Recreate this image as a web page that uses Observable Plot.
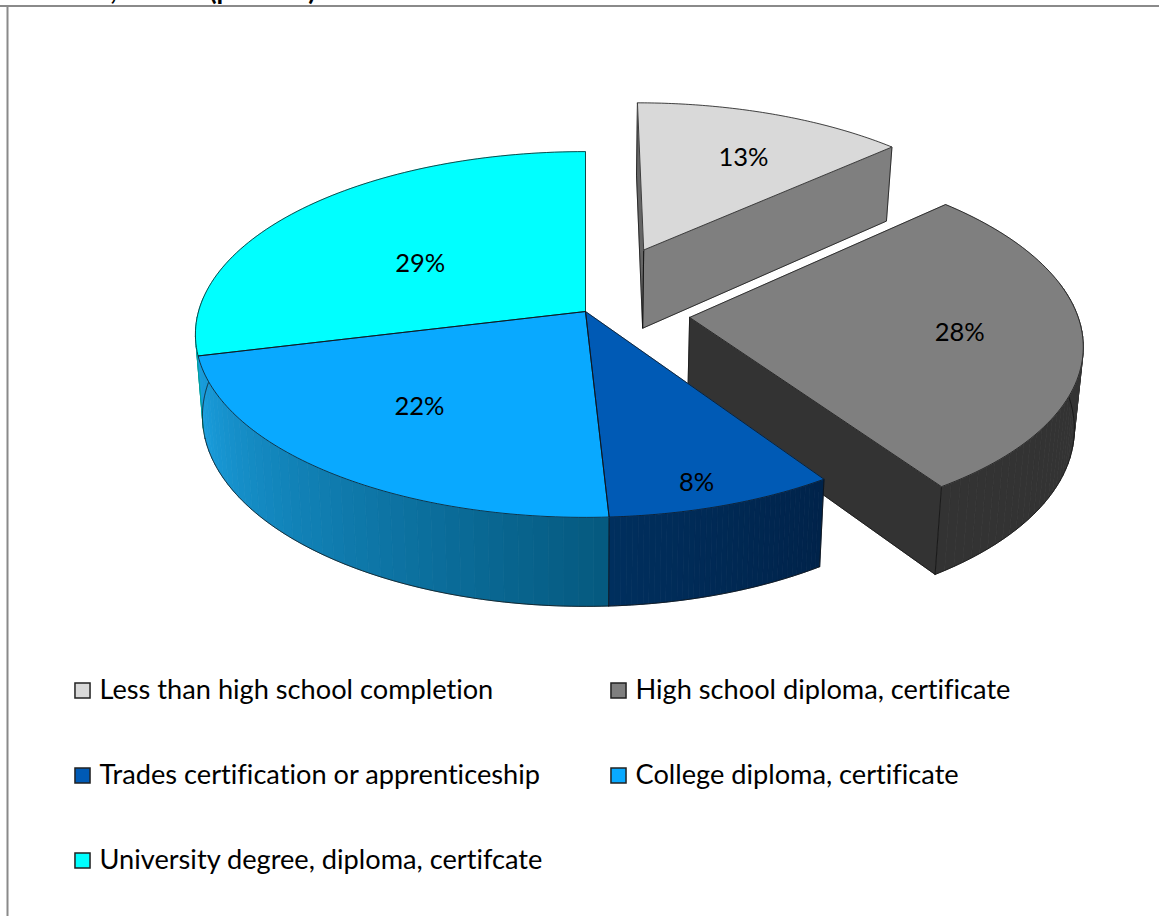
<!DOCTYPE html>
<html><head><meta charset="utf-8">
<style>html,body{margin:0;padding:0;background:#fff}svg{display:block;font-variant-ligatures:none}</style>
<script src="https://cdn.jsdelivr.net/npm/d3@7"></script>
<script src="https://cdn.jsdelivr.net/npm/@observablehq/plot@0.6"></script>
</head><body><div id="chart"></div>
<script>
// Data (shares; labels show them rounded)
const categories = ["Less than high school completion","High school diploma, certificate","Trades certification or apprenticeship","College diploma, certificate","University degree, diploma, certifcate"];
const shares = [13.2, 27.5, 8.45, 22, 28.85];
const topColors = ["#d9d9d9","#7f7f7f","#005ab5","#09a9ff","#00ffff"];
const sideStart = ["#7f7f7f","#333333","#002f5e","#1a9ede","#00a0a0"];
const sideEnd   = ["#7f7f7f","#333333","#00234a","#055a80","#00a0a0"];
// Layout of the projected pie
const explode = [0.39, 0.27, 0, 0, 0];
const labelRadius = [0.67, 0.69, 0.89, 0.64, 0.52];
const labelAlong = [0.56, 0.50, 0.55, 0.53, 0.44];
const legendCol = [0, 1, 0, 1, 0];
const legendRow = [0, 0, 1, 1, 2];
const W = 1159, H = 916;
const cx = 585, cy = 311, Rx = 387, Ry = 180, persp = 0.1257;

const total = d3.sum(shares);
const cum = d3.cumsum(shares);
const rad = v => v / total * 2 * Math.PI;
const slices = shares.map((s, i) => ({i, a0: rad(cum[i] - s), a1: rad(cum[i])}));

function proj(i, a, r, low) {
  const s = slices[i], mid = (s.a0 + s.a1) / 2;
  const u = explode[i] * Math.sin(mid) + r * Math.sin(a);
  const v = -explode[i] * Math.cos(mid) - r * Math.cos(a);
  const f = 1 / (1 - persp * v);
  const x = Rx * u * f, y = Ry * v * f;
  return low ? {x: cx + x * 0.982, y: cy + y + 23 + 57.7 * f}
             : {x: cx + x, y: cy + y};
}
const arcPts = (i, a0, a1, low, n = 80) => d3.range(n + 1).map(k => proj(i, a0 + (a1 - a0) * k / n, 1, low));

const fills = [], edges = [];
let polyId = 0;
function addFill(pts, color) { const z = polyId++; [...pts, pts[0]].forEach(p => fills.push({...p, z, color})); }
function addEdge(pts) { const z = polyId++; pts.forEach(p => edges.push({...p, z})); }
function flush(list) {
  list.push(Plot.line(fills.splice(0), {x:"x", y:"y", z:"z", fill:"color", stroke:"color", strokeWidth:0.8, curve:"linear"}));
  list.push(Plot.line(edges.splice(0), {x:"x", y:"y", z:"z", stroke:"#111", strokeWidth:0.9, strokeOpacity:0.85, curve:"linear"}));
}
function radial(i, a) {
  const p0 = proj(i, a, 0, false), p1 = proj(i, a, 1, false), q1 = proj(i, a, 1, true), q0 = proj(i, a, 0, true);
  return [p0, p1, q1, q0, p0];
}
function rim(i, a0, a1, n = 40) {
  const c = d3.interpolateRgb(sideStart[i], sideEnd[i]);
  for (let k = 0; k < n; k++) {
    const b0 = a0 + (a1 - a0) * k / n, b1 = a0 + (a1 - a0) * (k + 1) / n;
    addFill([proj(i,b0,1,false), proj(i,b1,1,false), proj(i,b1,1,true), proj(i,b0,1,true)], c(k / (n - 1)));
  }
  addEdge(arcPts(i, a0, a1, true));
}
function topFace(i) {
  const s = slices[i], p0 = proj(i, 0, 0, false);
  const pts = [p0, ...arcPts(i, s.a0, s.a1, false), p0];
  addFill(pts, topColors[i]);
  addEdge(pts);
}

const pieMarks = [];
addFill(radial(0, slices[0].a0), "#666666"); addEdge(radial(0, slices[0].a0));
addFill(radial(0, slices[0].a1), sideStart[0]); addEdge(radial(0, slices[0].a1));
flush(pieMarks); topFace(0); flush(pieMarks);
rim(1, rad(22), slices[1].a1);
addFill(radial(1, slices[1].a1), sideStart[1]); addEdge(radial(1, slices[1].a1));
flush(pieMarks); topFace(1); flush(pieMarks);
rim(4, slices[4].a0, slices[4].a0 + rad(5), 6);
rim(3, slices[3].a1, slices[3].a0);
rim(2, slices[2].a1, slices[2].a0);
[slices[2].a1, slices[2].a0].forEach(a => addEdge([proj(2,a,1,false), proj(2,a,1,true)]));
flush(pieMarks);
[4, 3, 2].forEach(topFace); flush(pieMarks);

const labels = slices.map(s => {
  const a = s.a0 + (s.a1 - s.a0) * labelAlong[s.i];
  return {...proj(s.i, a, labelRadius[s.i], false), text: Math.round(shares[s.i]) + "%"};
});
const legendX = [82, 618], legendY = [690, 775, 860];
const legend = categories.map((label, i) => ({label, color: topColors[i], x: legendX[legendCol[i]], y: legendY[legendRow[i]]}));
const titleBits = [{x:113,t:","},{x:262,t:"(percent)"}];

const chart = Plot.plot({
  width: W, height: H, margin: 0,
  x: {domain: [0, W], range: [0, W], axis: null},
  y: {domain: [0, H], range: [0, H], axis: null},
  color: {type: "identity"},
  style: {fontFamily: "Lato, sans-serif", background: "#fff"},
  marks: [
    Plot.text(titleBits, {x:"x", y:()=>-1, text:"t", fontSize:27, fontWeight:"bold", fill:"#000", textAnchor:"middle", lineAnchor:"bottom"}),
    Plot.ruleY([5.5], {stroke:"#8a8a8a", strokeWidth:2}),
    Plot.ruleX([7], {stroke:"#8a8a8a", strokeWidth:2, y1:5, y2:H}),
    ...pieMarks,
    Plot.text(labels, {x:"x", y:"y", text:"text", fontSize:25.5, fill:"#000", textAnchor:"middle", lineAnchor:"middle"}),
    Plot.dot(legend, {x:"x", y:"y", symbol:"square", r:8.5, fill:"color", stroke:"#222", strokeWidth:1.5}),
    Plot.text(legend, {x:d=>d.x+17, y:"y", text:"label", fontSize:27.2, fill:"#000", textAnchor:"start", lineAnchor:"middle"})
  ]
});
document.getElementById("chart").append(chart);
</script></body></html>
